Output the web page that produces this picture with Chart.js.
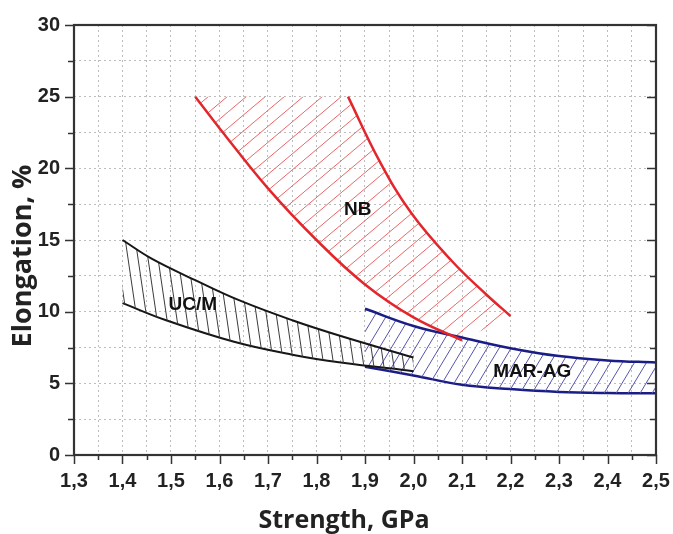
<!DOCTYPE html>
<html>
<head>
<meta charset="utf-8">
<script src="https://cdn.jsdelivr.net/npm/chart.js@4.4.0/dist/chart.umd.min.js"></script>
<style>
  html, body { margin: 0; padding: 0; background: #fff; }
</style>
</head>
<body>
<canvas id="chart" width="673" height="534"></canvas>
<script>
// tick labels and axis titles
const xTickLabels = ['1,3','1,4','1,5','1,6','1,7','1,8','1,9','2,0','2,1','2,2','2,3','2,4','2,5'];
const yTickLabels = ['0','5','10','15','20','25','30'];
const xTitle = 'Strength, GPa';
const yTitle = 'Elongation, %';

// NB band (red)
const nbLeftX  = [1.55, 1.60, 1.70, 1.80, 1.90, 2.00, 2.10];
const nbLeftY  = [25.0, 22.8, 18.6, 15.0, 11.9, 9.6, 8.0];
const nbRightX = [1.865, 1.93, 1.995, 2.08, 2.15, 2.20];
const nbRightY = [25.0, 20.5, 16.9, 13.5, 11.2, 9.7];

// UC/M band (black)
const ucUpperX = [1.40, 1.46, 1.55, 1.64, 1.75, 1.85, 2.00];
const ucUpperY = [15.0, 13.7, 12.2, 10.8, 9.4, 8.3, 6.8];
const ucLowerX = [1.40, 1.49, 1.63, 1.75, 1.85, 2.00];
const ucLowerY = [10.6, 9.4, 7.9, 7.0, 6.45, 5.85];

// MAR-AG band (blue)
const marUpperX = [1.90, 2.00, 2.10, 2.20, 2.30, 2.40, 2.50];
const marUpperY = [10.2, 9.0, 8.2, 7.45, 6.9, 6.6, 6.45];
const marLowerX = [1.90, 2.00, 2.10, 2.20, 2.30, 2.40, 2.50];
const marLowerY = [6.15, 5.55, 4.9, 4.6, 4.4, 4.32, 4.3];

// band names and where they sit (data units)
const zoneNames = ['NB', 'UC/M', 'MAR-AG'];
const zoneNameX = [1.885, 1.545, 2.245];
const zoneNameY = [17.1, 10.5, 5.8];

function pts(xs, ys) {
    return xs.map(function (x, i) { return {x: x, y: ys[i]}; });
}
function toNum(lbl) { return parseFloat(lbl.replace(',', '.')); }

// hatch pattern: tile w x h, one line from corner to corner
function hatch(color, w, h, lean) {
    var c = document.createElement('canvas');
    c.width = w; c.height = h;
    var g = c.getContext('2d');
    g.strokeStyle = color;
    g.lineWidth = 1;
    g.beginPath();
    for (var k = -1; k <= 1; k++) {
        if (lean === '/') { g.moveTo(k * w, h); g.lineTo(k * w + w, 0); }
        else { g.moveTo(k * w, 0); g.lineTo(k * w + w, h); }
    }
    g.stroke();
    return g.createPattern(c, 'repeat');
}

var nbLeft = pts(nbLeftX, nbLeftY);
var nbRightUp = pts(nbRightX, nbRightY).reverse();
// closed outline of the NB zone; end points doubled so the edges stay straight
var nbShape = nbLeft.concat([nbLeft[nbLeft.length - 1], nbRightUp[0]], nbRightUp);

var lineBase = {pointRadius: 0, tension: 0.4, fill: false};

var datasets = [
    Object.assign({label: 'NB low', data: nbLeft, borderColor: '#e2262c', borderWidth: 2.5}, lineBase),
    Object.assign({label: 'NB high', data: pts(nbRightX, nbRightY), borderColor: '#e2262c', borderWidth: 2.5}, lineBase),
    Object.assign({}, lineBase, {label: 'UC/M high', data: pts(ucUpperX, ucUpperY), borderColor: '#161616', borderWidth: 2,
        fill: '+1', backgroundColor: hatch('#3c3c3c', 10, 68, '\\')}),
    Object.assign({label: 'UC/M low', data: pts(ucLowerX, ucLowerY), borderColor: '#161616', borderWidth: 2}, lineBase),
    Object.assign({}, lineBase, {label: 'MAR-AG high', data: pts(marUpperX, marUpperY), borderColor: '#1b1d86', borderWidth: 2.5,
        fill: '+1', backgroundColor: hatch('#5656ac', 12, 20, '/')}),
    Object.assign({label: 'MAR-AG low', data: pts(marLowerX, marLowerY), borderColor: '#1b1d86', borderWidth: 2.5}, lineBase),
    Object.assign({}, lineBase, {label: 'NB zone', data: nbShape, borderWidth: 0, borderColor: 'rgba(0,0,0,0)',
        fill: 'shape', backgroundColor: hatch('#e96666', 19, 16, '/')})
];

var tickFont = {family: '"Liberation Sans", Arial', size: 20, weight: 'bold'};

// frame, tick marks, axis titles and zone names
var decor = {
    id: 'decor',
    afterDatasetsDraw: function (chart) {
        var ctx = chart.ctx, x = chart.scales.x, y = chart.scales.y;
        ctx.save();
        ctx.fillStyle = '#111';
        ctx.font = 'bold 19px "Liberation Sans", Arial';
        ctx.textAlign = 'center';
        ctx.textBaseline = 'middle';
        zoneNames.forEach(function (name, i) {
            ctx.fillText(name, x.getPixelForValue(zoneNameX[i]), y.getPixelForValue(zoneNameY[i]));
        });
        ctx.restore();
    },
    afterDraw: function (chart) {
        var ctx = chart.ctx, a = chart.chartArea, x = chart.scales.x, y = chart.scales.y;
        ctx.save();
        ctx.strokeStyle = '#333';
        ctx.lineWidth = 1.5;
        ctx.beginPath();
        x.ticks.forEach(function (t) {
            var px = Math.round(x.getPixelForValue(t.value)) + 0.5;
            var len = t.label ? 9 : 5;
            ctx.moveTo(px, a.bottom); ctx.lineTo(px, a.bottom + len);
        });
        y.ticks.forEach(function (t) {
            var py = Math.round(y.getPixelForValue(t.value)) + 0.5;
            var len = t.label ? 9 : 6;
            ctx.moveTo(a.left - len, py); ctx.lineTo(a.left, py);
            ctx.moveTo(a.right - len, py); ctx.lineTo(a.right, py);
        });
        ctx.stroke();
        ctx.lineWidth = 2.2;
        ctx.strokeRect(a.left, a.top, a.right - a.left, a.bottom - a.top);

        ctx.fillStyle = '#222';
        ctx.textAlign = 'center';
        ctx.textBaseline = 'alphabetic';
        ctx.font = 'bold 25px "Open Sans"';
        ctx.fillText(xTitle, 344, 528);
        ctx.translate(31, 256);
        ctx.rotate(-Math.PI / 2);
        ctx.font = 'bold 27px "Open Sans"';
        ctx.fillText(yTitle, 0, 0);
        ctx.restore();
    }
};

new Chart(document.getElementById('chart'), {
    type: 'line',
    data: {datasets: datasets},
    options: {
        responsive: false,
        animation: false,
        layout: {padding: {top: 25, right: 17, left: 0, bottom: 0}},
        plugins: {legend: {display: false}, tooltip: {enabled: false}},
        scales: {
            x: {
                type: 'linear',
                min: toNum(xTickLabels[0]),
                max: toNum(xTickLabels[xTickLabels.length - 1]),
                afterBuildTicks: function (s) {
                    var t = [];
                    xTickLabels.forEach(function (l, i) {
                        t.push({value: toNum(l)});
                        if (i < xTickLabels.length - 1) t.push({value: (toNum(l) + toNum(xTickLabels[i + 1])) / 2});
                    });
                    s.ticks = t;
                },
                afterFit: function (s) { s.height = 79; s.paddingLeft = 0; s.paddingRight = 0; },
                ticks: {
                    autoSkip: false, maxRotation: 0, padding: 14, color: '#222', font: tickFont,
                    callback: function (v) {
                        var l = xTickLabels.find(function (q) { return Math.abs(toNum(q) - v) < 1e-6; });
                        return l || '';
                    }
                },
                grid: {color: '#bdbdbd', lineWidth: 1, drawTicks: false},
                border: {display: false, dash: [2, 3]}
            },
            y: {
                type: 'linear',
                min: toNum(yTickLabels[0]),
                max: toNum(yTickLabels[yTickLabels.length - 1]),
                afterBuildTicks: function (s) {
                    var t = [];
                    yTickLabels.forEach(function (l, i) {
                        t.push({value: toNum(l)});
                        if (i < yTickLabels.length - 1) t.push({value: (toNum(l) + toNum(yTickLabels[i + 1])) / 2});
                    });
                    s.ticks = t;
                },
                afterFit: function (s) { s.width = 74; s.paddingTop = 0; s.paddingBottom = 0; },
                ticks: {
                    autoSkip: false, padding: 14, color: '#222', font: tickFont,
                    callback: function (v) {
                        var l = yTickLabels.find(function (q) { return Math.abs(toNum(q) - v) < 1e-6; });
                        return l || '';
                    }
                },
                grid: {color: '#bdbdbd', lineWidth: 1, drawTicks: false},
                border: {display: false, dash: [2, 3]}
            }
        }
    },
    plugins: [decor]
});
</script>
</body>
</html>
